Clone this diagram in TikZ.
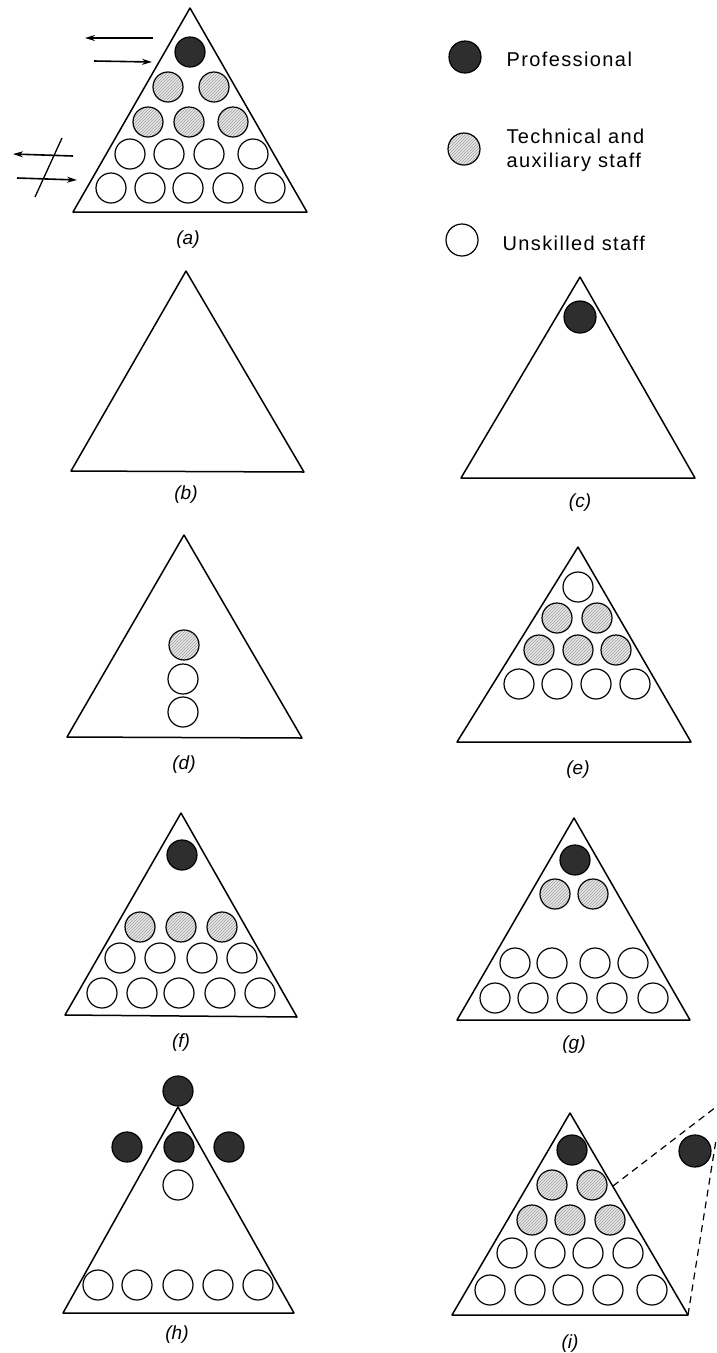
\documentclass[tikz,border=0pt]{standalone}
\usepackage{fontspec}
\setmainfont{Liberation Sans}
\newfontfamily\legfont[LetterSpace=7]{Liberation Sans}
\usepackage{tikz}
\usetikzlibrary{arrows.meta, patterns}

\begin{document}
\begin{tikzpicture}[
    x=1pt, y=-1pt,
    >={Stealth[length=10pt, width=6pt]},
    tri/.style={line width=1.5pt, line join=round},
    ball/.style={circle, draw=black, line width=1.2pt, minimum size=30pt, inner sep=0pt},
    prof/.style={ball, fill=black!82},
    tech/.style={ball, preaction={fill=gray!18},
                 pattern=north east lines, pattern color=gray!75},
    unsk/.style={ball, fill=white},
    panlabel/.style={font=\itshape\fontsize{19}{19}\selectfont},
    legtext/.style={font=\legfont\fontsize{20}{24}\selectfont, align=left, anchor=west}
]
\useasboundingbox (0,0) rectangle (716,1353);

% (a)
\draw[tri] (190,8) -- (73,212) -- (307,212) -- cycle;
\node[prof] (a1) at (190,52) {};
\foreach \x [count=\i] in {168,214} \node[tech] (a2\i) at (\x,87) {};
\foreach \x [count=\i] in {148,189,233} \node[tech] (a3\i) at (\x,122) {};
\foreach \x [count=\i] in {130,169,209,253} \node[unsk] (a4\i) at (\x,154) {};
\foreach \x [count=\i] in {111,150,188,228,270} \node[unsk] (a5\i) at (\x,188) {};
\coordinate (outS) at (153,38);  \coordinate (outE) at (85,38);
\coordinate (inS) at (94,61);    \coordinate (inE) at (152,62);
\coordinate (lowoutS) at (73,156); \coordinate (lowoutE) at (13,154);
\coordinate (lowinS) at (17,178);  \coordinate (lowinE) at (77,180);
\coordinate (barT) at (62,138);    \coordinate (barB) at (35,197);
\draw[->, line width=1.6pt] (outS) -- (outE);
\draw[->, line width=1.6pt] (inS) -- (inE);
\draw[->, line width=1.6pt] (lowoutS) -- (lowoutE);
\draw[->, line width=1.6pt] (lowinS) -- (lowinE);
\draw[line width=1.3pt] (barT) -- (barB);
\node[panlabel] (labA) at (188,240) {(a)};

% legend
\node[prof, minimum size=32pt] (kprof) at (465,57) {};
\node[legtext] (tprof) at (503,59) {Professional};
\node[tech, minimum size=32pt] (ktech) at (464,149) {};
\node[legtext] (ttech) at (503,150) {Technical and\\auxiliary staff};
\node[unsk, minimum size=32pt] (kunsk) at (462,240) {};
\node[legtext] (tunsk) at (499,243) {Unskilled staff};

% (b)
\draw[tri] (186,271) -- (71,471) -- (304,472) -- cycle;
\node[panlabel] (labB) at (186,495) {(b)};

% (c)
\draw[tri] (580,277) -- (461,478) -- (695,478) -- cycle;
\node[prof, minimum size=32pt] (c1) at (580,317) {};
\node[panlabel] (labC) at (580,503) {(c)};

% (d)
\draw[tri] (184,535) -- (67,737) -- (302,738) -- cycle;
\node[tech] (d1) at (184,645) {};
\node[unsk] (d2) at (183,679) {};
\node[unsk] (d3) at (183,712) {};
\node[panlabel] (labD) at (184,765) {(d)};

% (e)
\draw[tri] (578,547) -- (457,742) -- (691,742) -- cycle;
\node[unsk] (e1) at (578,587) {};
\foreach \x [count=\i] in {557,597} \node[tech] (e2\i) at (\x,618) {};
\foreach \x [count=\i] in {539,578,616} \node[tech] (e3\i) at (\x,650) {};
\foreach \x [count=\i] in {519,557,596,635} \node[unsk] (e4\i) at (\x,684) {};
\node[panlabel] (labE) at (578,770) {(e)};

% (f)
\draw[tri] (181,813) -- (65,1015) -- (297,1017) -- cycle;
\node[prof] (f1) at (182,855) {};
\foreach \x [count=\i] in {140,181,222} \node[tech] (f2\i) at (\x,927) {};
\foreach \x [count=\i] in {120,160,202,242} \node[unsk] (f3\i) at (\x,958) {};
\foreach \x [count=\i] in {102,142,179,220,260} \node[unsk] (f4\i) at (\x,993) {};
\node[panlabel] (labF) at (181,1043) {(f)};

% (g)
\draw[tri] (574,818) -- (457,1020) -- (690,1020) -- cycle;
\node[prof] (g1) at (575,860) {};
\foreach \x [count=\i] in {555,593} \node[tech] (g2\i) at (\x,894) {};
\foreach \x [count=\i] in {515,552,595,633} \node[unsk] (g3\i) at (\x,963) {};
\foreach \x [count=\i] in {495,533,572,612,653} \node[unsk] (g4\i) at (\x,998) {};
\node[panlabel] (labG) at (574,1045) {(g)};

% (h)
\draw[tri] (178,1107) -- (63,1313) -- (294,1313) -- cycle;
\node[prof] (h1) at (178,1091) {};
\foreach \x [count=\i] in {127,179,229} \node[prof] (h2\i) at (\x,1147) {};
\node[unsk] (h3) at (178,1185) {};
\foreach \x [count=\i] in {98,137,178,218,258} \node[unsk] (h4\i) at (\x,1285) {};
\node[panlabel] (labH) at (177,1335) {(h)};

% (i)
\draw[tri] (570,1113) -- (452,1315) -- (688,1315) -- cycle;
\node[prof] (i1) at (572,1150) {};
\foreach \x [count=\i] in {552,592} \node[tech] (i2\i) at (\x,1185) {};
\foreach \x [count=\i] in {532,570,610} \node[tech] (i3\i) at (\x,1220) {};
\foreach \x [count=\i] in {512,550,588,628} \node[unsk] (i4\i) at (\x,1253) {};
\foreach \x [count=\i] in {490,530,568,608,652} \node[unsk] (i5\i) at (\x,1290) {};
\node[prof, minimum size=32pt] (iout) at (695,1151) {};
\coordinate (edgeup) at (613,1186);
\coordinate (edgelow) at (688,1315);
\coordinate (offup) at (716,1107);
\coordinate (offlow) at (716,1140);
\draw[dashed, line width=1.2pt, dash pattern=on 7pt off 5pt] (edgeup) -- (offup);
\draw[dashed, line width=1.2pt, dash pattern=on 7pt off 5pt] (edgelow) -- (offlow);
\node[panlabel] (labI) at (570,1344) {(i)};
\end{tikzpicture}
\end{document}
